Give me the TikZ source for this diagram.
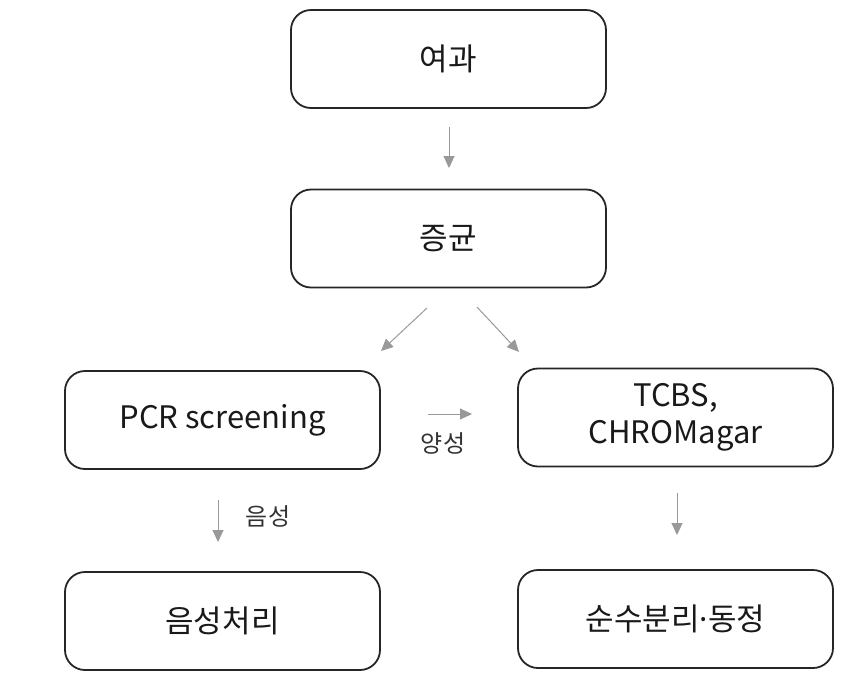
\documentclass[tikz,border=0pt]{standalone}
\usepackage{fontspec}
\newfontfamily\kr{Noto Sans CJK KR}
\newfontfamily\dotfont{Noto Sans}
\usetikzlibrary{arrows.meta}
\begin{document}
\begin{tikzpicture}[x=1pt,y=-1pt,
  box/.style={draw=black!85, line width=1.8pt, rounded corners=20pt,
    minimum width=315pt, minimum height=98pt, inner sep=0pt, align=center,
    text=black!90, font=\kr\fontsize{31}{37}\selectfont},
  flow/.style={draw=black!40, line width=1pt,
    -{Triangle[length=12pt,width=11pt]}},
  lbl/.style={font=\kr\fontsize{24}{28}\selectfont, text=black!80}]
\useasboundingbox (0,0) rectangle (855,673);
\node[box] (a) at (448.5,59) {여과};
\node[box] (b) at (448.5,238.5) {증균};
\node[box] (c) at (222.5,420) {PCR screening};
\node[box] (d) at (675.5,417.5) {TCBS,\\CHROMagar};
\node[box] (e) at (222.5,621) {음성처리};
\node[box] (f) at (675.5,619) {순수분리{\dotfont ·}동정};
\coordinate (a1) at (449,127);
\coordinate (a2) at (449,168);
\coordinate (l1) at (427,308);
\coordinate (l2) at (381,351);
\coordinate (r1) at (477,307);
\coordinate (r2) at (519,352);
\coordinate (h1) at (428,414);
\coordinate (h2) at (472,414);
\coordinate (n1) at (218,500);
\coordinate (n2) at (218,542);
\coordinate (p1) at (677,493);
\coordinate (p2) at (677,535);
\draw[flow] (a1) -- (a2);
\draw[flow] (l1) -- (l2);
\draw[flow] (r1) -- (r2);
\draw[flow] (h1) -- (h2);
\draw[flow] (n1) -- (n2);
\draw[flow] (p1) -- (p2);
\node[lbl] (pos) at (443,443) {양성};
\node[lbl] (neg) at (268,516) {음성};
\end{tikzpicture}
\end{document}
